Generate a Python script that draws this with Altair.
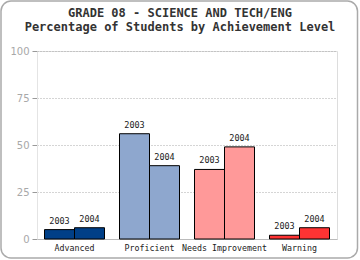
import altair as alt
import pandas as pd

levels = ["Advanced", "Proficient", "Needs Improvement", "Warning"]
years = ["2003", "2004"]
values_2003 = [5, 56, 37, 2]
values_2004 = [6, 39, 49, 6]
colors = ["#003F87", "#8EA7CE", "#FF9999", "#FF3333"]
title_lines = ["GRADE 08 - SCIENCE AND TECH/ENG", "Percentage of Students by Achievement Level"]

rows = []
for lvl, v3, v4 in zip(levels, values_2003, values_2004):
    rows.append({"level": lvl, "year": "2003", "pct": v3})
    rows.append({"level": lvl, "year": "2004", "pct": v4})
df = pd.DataFrame(rows)

mono = "DejaVu Sans Mono"

x_enc = alt.X("level:N", sort=levels,
              scale=alt.Scale(paddingInner=0.2, paddingOuter=0.1),
              axis=alt.Axis(title=None, labelAngle=0, labelFont=mono, labelFontSize=8.3,
                            labelColor="#222", ticks=False, labelPadding=4,
                            domainColor="#bbb"))
xo_enc = alt.XOffset("year:N", sort=years, scale=alt.Scale(paddingInner=0, paddingOuter=0))
y_enc = alt.Y("pct:Q", scale=alt.Scale(domain=[0, 100], nice=False),
              axis=alt.Axis(title=None, values=[0, 25, 50, 75, 100], labelFont="DejaVu Sans",
                            labelFontSize=10, labelColor="#a8a8a8", tickColor="#999", tickSize=5,
                            labelPadding=3, domain=True, domainColor="#e4e4e4",
                            gridColor="#aaa", gridDash=[1, 2], gridWidth=1))

base = alt.Chart(df)

bars = base.mark_bar(stroke="black", strokeWidth=1).encode(
    x=x_enc, xOffset=xo_enc, y=y_enc,
    color=alt.Color("level:N", sort=levels,
                    scale=alt.Scale(domain=levels, range=colors), legend=None),
)

labels = base.mark_text(baseline="bottom", dy=-4, font=mono, fontSize=8.5, color="#222").encode(
    x=alt.X("level:N", sort=levels), xOffset=alt.XOffset("year:N", sort=years),
    y=alt.Y("pct:Q"), text="year:N",
)

title1 = alt.Chart(alt.Data(values=[{"t": title_lines[0]}])).mark_text(
    font=mono, fontSize=12, fontWeight="bold", color="#333", baseline="middle", clip=False
).encode(x=alt.value(143), y=alt.value(-37.7), text="t:N")
title2 = alt.Chart(alt.Data(values=[{"t": title_lines[1]}])).mark_text(
    font=mono, fontSize=12, fontWeight="bold", color="#333", baseline="middle", clip=False
).encode(x=alt.value(143), y=alt.value(-24.2), text="t:N")

border = alt.Chart(alt.Data(values=[{}])).mark_rect(
    fill=None, stroke="#aaa", strokeWidth=1.5, cornerRadius=10, clip=False
).encode(x=alt.value(-36), x2=alt.value(320.5), y=alt.value(-50), y2=alt.value(207))

chart = alt.layer(bars, labels, title1, title2, border).properties(
    width=300, height=188,
    autosize=alt.AutoSizeParams(type="none"),
    padding={"left": 37, "top": 51, "right": 23, "bottom": 21},
).configure_view(stroke="#e4e4e4").configure(background="white")

chart.save("out.html", embed_options={"renderer": "svg", "actions": False})
